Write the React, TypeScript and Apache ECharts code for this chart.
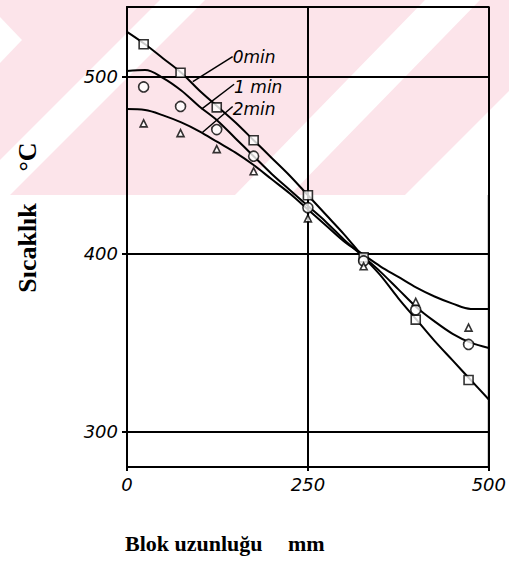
import React, { useEffect, useRef } from "react";
import * as echarts from "echarts";

// Measured points (x in mm, temperature in °C)
const measuredX = [23, 74, 124, 175, 250, 327, 399, 472];
const points0min = [518, 502, 482.5, 464, 433, 398, 363, 329];
const points1min = [494, 483, 470, 455, 426, 396, 368.5, 349];
const points2min = [473.5, 468, 459, 446.5, 420, 393, 373, 358.5];

// Fitted curves
const curveX = [0, 25, 50, 75, 100, 125, 150, 175, 200, 225, 250, 275, 300, 325, 350, 375, 400, 425, 450, 475, 500];
const curve0min = [525, 518, 510, 502, 492, 483, 474, 464, 454, 444, 433, 422, 411, 399, 388, 375, 363, 351, 340, 329, 318];
const curve1min = [503, 503.5, 499, 492, 483, 475, 465, 455, 445, 436, 427, 418, 408, 399, 390, 380, 370, 362, 355, 350, 347];
const curve2min = [481.5, 481, 478, 474, 469, 463, 457, 450, 442, 434, 425, 416, 407, 400, 393, 387, 381, 376, 372, 369, 369];

const curveLabels = ["0min", "1 min", "2min"];
const xTickValues = [0, 250, 500];
const yTickValues = [300, 400, 500];
const yMin = 280;
const yMax = 539;

// leader lines for the curve labels [start, end] in data units
const leaders = [
  [[91, 497], [146, 511]],
  [[103, 481.5], [148, 495.5]],
  [[104.5, 468.5], [146, 483]],
];

const zip = (xs: number[], ys: number[]) => xs.map((x, i) => [x, ys[i]]);

export default function App() {
  const ref = useRef<HTMLDivElement>(null);
  useEffect(() => {
    if (!ref.current) return;
    const chart = echarts.init(ref.current, null, { renderer: "svg" });
    const tickFont = {
      fontFamily: "DejaVu Sans",
      fontStyle: "italic" as const,
      fontSize: 18,
      color: "#000",
    };
    const curveStyle = { color: "#000", width: 2 };
    const curveSeries = [curve0min, curve1min, curve2min].map((c, i) => ({
      type: "line",
      name: "curve" + i,
      data: zip(curveX, c),
      smooth: 0.35,
      showSymbol: false,
      symbol: "none",
      lineStyle: curveStyle,
      silent: true,
      z: 3,
    }));
    const markerSeries = [
      { data: points0min, symbol: "rect", size: 9 },
      { data: points1min, symbol: "circle", size: 10 },
      { data: points2min, symbol: "triangle", size: 7 },
    ].map((m, i) => ({
      type: "scatter",
      name: "pts" + i,
      data: zip(measuredX, m.data),
      symbol: m.symbol,
      symbolSize: m.size,
      itemStyle: { color: "#fff", borderColor: "#000", borderWidth: 1.6 },
      z: 5,
    }));
    const leaderSeries = leaders.map((l, i) => ({
      type: "line",
      name: "leader" + i,
      data: [l[0], l[1]],
      showSymbol: false,
      symbol: "none",
      lineStyle: { color: "#000", width: 1.5 },
      z: 4,
    }));
    const labelSeries = {
      type: "scatter",
      name: "labels",
      symbolSize: 0,
      itemStyle: { color: "#000", opacity: 1 },
      data: leaders.map((l, i) => ({
        value: l[1],
        label: {
          show: true,
          formatter: curveLabels[i],
          position: "right",
          distance: 0,
          offset: [0, i === 0 ? 0 : 3],
          ...tickFont,
          fontSize: 17,
          color: "#000",
        },
      })),
      z: 6,
    };
    const gridSeries = {
      type: "line",
      name: "grid",
      data: [],
      markLine: {
        silent: true,
        symbol: "none",
        label: { show: false },
        lineStyle: { color: "#000", width: 2, type: "solid" },
        data: yTickValues.map((v) => ({ yAxis: v })),
      },
    };
    const pinkBase = "#fce4ea";
    chart.setOption({
      animation: false,
      backgroundColor: "#fff",
      grid: {
        left: 127,
        right: 19,
        top: 7,
        bottom: 102,
        show: true,
        borderColor: "#000",
        borderWidth: 2,
      },
      xAxis: [
        {
          type: "value",
          min: 0,
          max: 500,
          interval: 250,
          axisLine: { lineStyle: { color: "#000", width: 2 } },
          axisTick: { show: true, length: 4, lineStyle: { color: "#000", width: 2 } },
          axisLabel: { ...tickFont, margin: 8, customValues: xTickValues },
          splitLine: { show: true, lineStyle: { color: "#000", width: 2 } },
        },
        {
          type: "value",
          position: "top",
          min: 0,
          max: 500,
          axisLine: { show: true, lineStyle: { color: "#000", width: 2 } },
          axisTick: { show: false },
          axisLabel: { show: false },
          splitLine: { show: false },
        },
      ],
      yAxis: {
        type: "value",
        min: yMin,
        max: yMax,
        axisLine: { lineStyle: { color: "#000", width: 2 } },
        axisTick: { show: true, length: 5, customValues: yTickValues, lineStyle: { color: "#000", width: 2 } },
        axisLabel: { ...tickFont, margin: 9, customValues: yTickValues },
        splitLine: { show: false },
      },
      graphic: [
        {
          type: "group",
          z: -10,
          silent: true,
          children: [
            { type: "rect", shape: { x: 0, y: 0, width: 509, height: 195 }, style: { fill: pinkBase } },
            { type: "polygon", shape: { points: [[0, 17], [22, 40], [0, 63]] }, style: { fill: "#fff" } },
            { type: "polygon", shape: { points: [[0, 160], [160, 0], [205, 0], [10, 195], [0, 195]] }, style: { fill: "#fff" } },
            { type: "polygon", shape: { points: [[425, 0], [480, 0], [290, 195], [235, 195]] }, style: { fill: "#fff" } },
            { type: "polygon", shape: { points: [[509, 91], [509, 195], [405, 195]] }, style: { fill: "#fff" } },
          ],
        },
        {
          type: "text",
          left: 125,
          top: 532,
          style: { text: "Blok uzunluğu", font: "bold 22px 'Liberation Serif'", fill: "#000" },
        },
        {
          type: "text",
          left: 288,
          top: 532,
          style: { text: "mm", font: "bold 22px 'Liberation Serif'", fill: "#000" },
        },
        {
          type: "text",
          x: 27,
          y: 248,
          rotation: Math.PI / 2,
          style: { text: "Sıcaklık", font: "bold 26px 'Liberation Serif'", fill: "#000", align: "center", verticalAlign: "middle" },
        },
        {
          type: "text",
          x: 27,
          y: 157,
          rotation: Math.PI / 2,
          style: { text: "°C", font: "bold 26px 'Liberation Serif'", fill: "#000", align: "center", verticalAlign: "middle" },
        },
      ],
      series: [gridSeries, ...curveSeries, ...leaderSeries, labelSeries, ...markerSeries],
    });
    return () => chart.dispose();
  }, []);
  return <div ref={ref} style={{ position: "absolute", left: 0, top: 0, width: 509, height: 569 }} />;
}
